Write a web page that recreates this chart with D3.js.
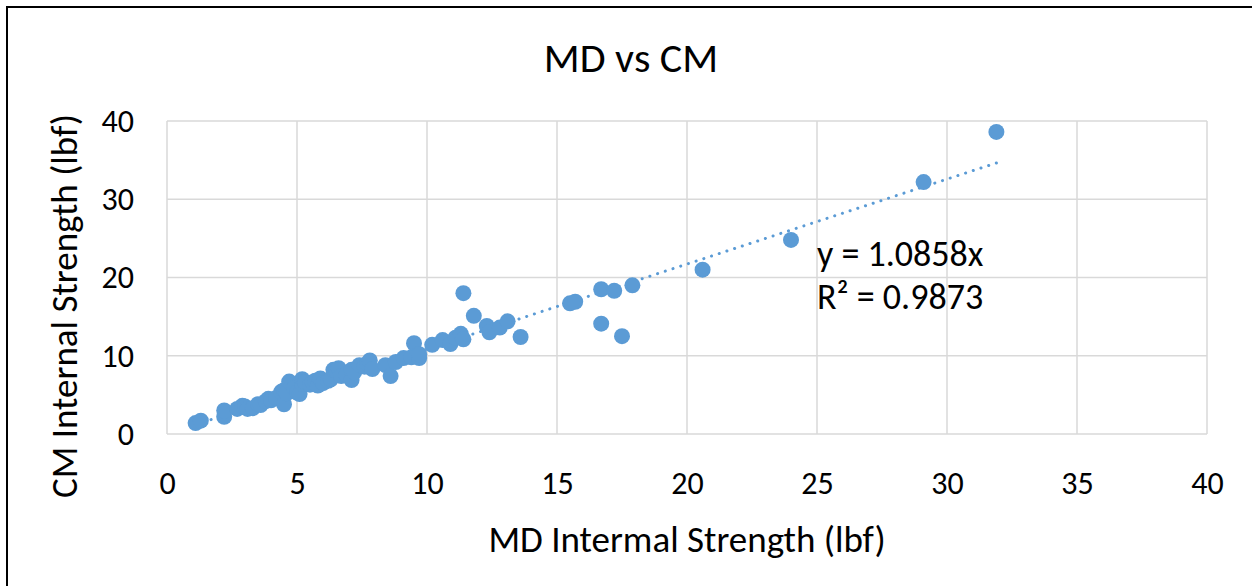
<!DOCTYPE html>
<html>
<head>
<meta charset="utf-8">
<script src="https://cdn.jsdelivr.net/npm/d3@7"></script>
<style>
  html, body { margin: 0; padding: 0; background: #fff; }
  svg { display: block; }
  text { font-family: Carlito, Calibri, Lato, "Open Sans", sans-serif; fill: #000; }
</style>
</head>
<body>
<svg id="chart" width="1252" height="586"></svg>
<script>
// MD (x) vs CM (y) internal strength, lbf
const mdStrength = [
  1.1, 1.3, 2.2, 2.2, 2.7, 2.9, 3.0, 3.1, 3.3, 3.5, 3.6, 3.8, 3.9, 4.0, 4.2,
  4.4, 4.5, 4.5, 4.6, 4.7, 4.9, 5.0, 5.1, 5.2, 5.2, 5.3, 5.5, 5.6, 5.7, 5.8,
  5.9, 6.0, 6.2, 6.3, 6.4, 6.5, 6.6, 6.7, 6.9, 7.1, 7.1, 7.2, 7.4, 7.6, 7.7,
  7.8, 7.9, 8.4, 8.6, 8.8, 9.1, 9.4, 9.5, 9.7, 9.7, 10.2, 10.6, 10.9, 11.1, 11.3,
  11.4, 11.4, 11.8, 12.3, 12.4, 12.8, 13.1, 13.6, 15.5, 15.7, 16.7, 16.7, 17.2, 17.5,
  17.9, 20.6, 24.0, 29.1, 31.9
];
const cmStrength = [
  1.4, 1.7, 2.2, 3.0, 3.2, 3.6, 3.5, 3.2, 3.3, 3.8, 3.7, 4.2, 4.5, 4.3, 4.6,
  5.4, 3.8, 5.6, 5.2, 6.7, 5.9, 5.3, 5.1, 6.4, 7.0, 6.6, 6.3, 6.6, 6.8, 6.2,
  7.1, 6.5, 6.8, 7.0, 8.2, 8.1, 8.4, 7.4, 7.6, 8.2, 6.9, 7.9, 8.8, 8.6, 9.0,
  9.4, 8.3, 8.8, 7.4, 9.2, 9.7, 9.8, 11.6, 9.7, 10.2, 11.4, 12.0, 11.5, 12.3, 12.8,
  12.1, 18.0, 15.1, 13.8, 13.0, 13.6, 14.4, 12.4, 16.7, 16.9, 18.5, 14.1, 18.3, 12.5,
  19.0, 21.0, 24.8, 32.2, 38.6
];
const xTicks = [0, 5, 10, 15, 20, 25, 30, 35, 40];
const yTicks = [0, 10, 20, 30, 40];
const trendSlope = 1.0858;
const trendR2 = 0.9873;

const svg = d3.select("#chart");
const W = 1252, H = 586;

// outer chart frame (left and top edges visible)
svg.append("rect")
  .attr("x", 7).attr("y", 7)
  .attr("width", W + 20).attr("height", H + 20)
  .attr("fill", "none").attr("stroke", "#000").attr("stroke-width", 2);

const x = d3.scaleLinear().domain([0, 40]).range([167, 1207]);
const y = d3.scaleLinear().domain([0, 40]).range([434, 121]);

// gridlines
const grid = svg.append("g").attr("stroke", "#d9d9d9").attr("stroke-width", 1.5);
grid.selectAll("line.v").data(xTicks).join("line")
  .attr("x1", d => x(d)).attr("x2", d => x(d))
  .attr("y1", y(0)).attr("y2", y(40));
grid.selectAll("line.h").data(yTicks).join("line")
  .attr("y1", d => y(d)).attr("y2", d => y(d))
  .attr("x1", x(0)).attr("x2", x(40));

// axes (labels only; lines come from the grid)
const xAxis = svg.append("g")
  .attr("transform", `translate(0,${y(0)})`)
  .call(d3.axisBottom(x).tickValues(xTicks).tickSize(0).tickPadding(37));
const yAxis = svg.append("g")
  .attr("transform", `translate(${x(0)},0)`)
  .call(d3.axisLeft(y).tickValues(yTicks).tickSize(0).tickPadding(33));
[xAxis, yAxis].forEach(a => {
  a.select(".domain").remove();
  a.selectAll("text").attr("font-size", 32).attr("fill", "#000")
    .style("font-family", "Carlito, Calibri, Lato, sans-serif");
});

// trendline through the origin, over the data range
const xMin = d3.min(mdStrength), xMax = d3.max(mdStrength);
svg.append("line")
  .attr("x1", x(xMin)).attr("y1", y(trendSlope * xMin))
  .attr("x2", x(xMax)).attr("y2", y(trendSlope * xMax))
  .attr("stroke", "#5b9bd5").attr("stroke-width", 3)
  .attr("stroke-linecap", "round").attr("stroke-dasharray", "0.1 8");

// data points
const pts = mdStrength.map((v, i) => [v, cmStrength[i]]);
svg.append("g").selectAll("circle").data(pts).join("circle")
  .attr("cx", d => x(d[0])).attr("cy", d => y(d[1]))
  .attr("r", 8).attr("fill", "#5b9bd5");

// titles
svg.append("text").attr("x", 631).attr("y", 72)
  .attr("text-anchor", "middle").attr("font-size", 42).text("MD vs CM");
svg.append("text").attr("x", 687).attr("y", 552)
  .attr("text-anchor", "middle").attr("font-size", 37).text("MD Intermal Strength (lbf)");
svg.append("text")
  .attr("transform", "translate(77,306) rotate(-90)")
  .attr("text-anchor", "middle").attr("font-size", 37).text("CM Internal Strength (lbf)");

// trendline equation
svg.append("text").attr("x", 817).attr("y", 266).attr("font-size", 36)
  .text(`y = ${trendSlope.toFixed(4)}x`);
svg.append("text").attr("x", 817).attr("y", 309).attr("font-size", 36)
  .text(`R² = ${trendR2.toFixed(4)}`);
</script>
</body>
</html>
